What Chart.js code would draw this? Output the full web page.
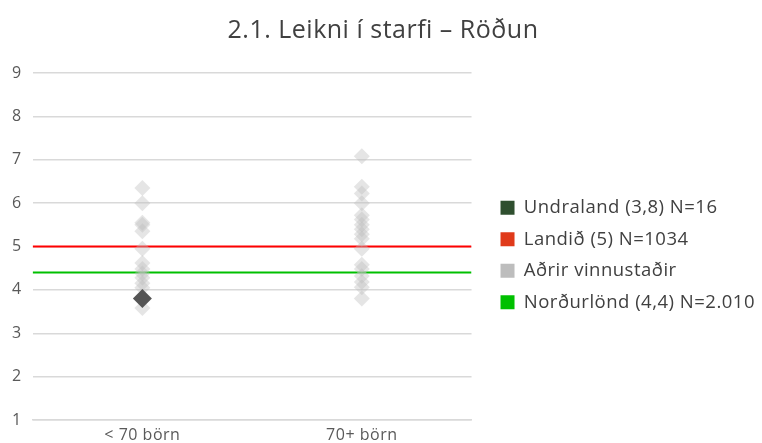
<!DOCTYPE html>
<html>
<head>
<meta charset="utf-8">
<script src="https://cdn.jsdelivr.net/npm/chart.js@4"></script>
<style>
  html, body { margin:0; padding:0; background:#fff; }
  #wrap { width:762px; height:443px; }
</style>
</head>
<body>
<div id="wrap"><canvas id="c"></canvas></div>
<script>
const title = "2.1. Leikni í starfi – Röðun";
const categories = ["< 70 börn", "70+ börn"];
// other workplaces, one list per category
const others1 = [6.35, 6.0, 5.55, 5.5, 5.35, 4.95, 4.62, 4.48, 4.38, 4.28, 4.15, 4.05, 3.58];
const others2 = [7.08, 6.38, 6.22, 6.0, 5.72, 5.62, 5.5, 5.4, 5.28, 5.18, 4.95, 4.58, 4.48, 4.32, 4.18, 4.06, 3.8];
const mine = [3.8, null];          // Undraland
const landid = 5;                  // Landið
const nordurlond = 4.4;            // Norðurlönd
const legendLabels = ["Undraland (3,8) N=16", "Landið (5) N=1034", "Aðrir vinnustaðir", "Norðurlönd (4,4) N=2.010"];
const legendColors = ["#2f4f2f", "#e03a1a", "#bdbdbd", "#00c000"];
const yTicks = [1, 2, 3, 4, 5, 6, 7, 8, 9];

const FONT = "'Open Sans', Lato, sans-serif";
const pos = (i) => i + 0.5;

const otherPts = [];
others1.forEach(v => otherPts.push({x: pos(0), y: v}));
others2.forEach(v => otherPts.push({x: pos(1), y: v}));
const minePts = mine.map((v, i) => v == null ? null : {x: pos(i), y: v}).filter(p => p);
const span = [0, categories.length];

// wider letter spacing, closer to the original typeface
const spacing = {
  id: 'spacing',
  beforeLayout(chart) { chart.ctx.letterSpacing = '0.5px'; },
  beforeDraw(chart) { chart.ctx.letterSpacing = '0.5px'; }
};

const data = {
  datasets: [
    {label: legendLabels[0], data: minePts, backgroundColor: '#555555', borderWidth: 0,
     pointStyle: 'rectRot', pointRadius: 9.5, showLine: false, order: 0},
    {label: legendLabels[1], data: span.map(x => ({x: x, y: landid})), borderColor: '#ff0000',
     borderWidth: 2, pointRadius: 0, showLine: true, type: 'line', order: 2},
    {label: legendLabels[2], data: otherPts, backgroundColor: 'rgba(190,190,190,0.4)', borderWidth: 0,
     pointStyle: 'rectRot', pointRadius: 8, showLine: false, order: 1},
    {label: legendLabels[3], data: span.map(x => ({x: x, y: nordurlond})), borderColor: '#00c000',
     borderWidth: 2, pointRadius: 0, showLine: true, type: 'line', order: 3}
  ]
};

new Chart(document.getElementById('c'), {
  type: 'scatter',
  data: data,
  plugins: [spacing],
  options: {
    responsive: true, maintainAspectRatio: false, animation: false,
    layout: {padding: {left: 1, right: -3, top: 0, bottom: 0}},
    plugins: {
      title: {display: true, text: title, color: '#404040', font: {family: FONT, size: 25, weight: 'normal'},
              padding: {top: 16, bottom: 27}},
      tooltip: {enabled: false},
      legend: {
        position: 'right', maxWidth: 320,
        // blank title only pushes the items down
        title: {display: true, text: ' ', font: {size: 1}, padding: {top: 0, bottom: 66}},
        labels: {
          font: {family: FONT, size: 18.5}, color: '#404040', boxWidth: 14, boxHeight: 14, padding: 13,
          generateLabels: () => legendLabels.map((t, i) => ({
            text: t, fillStyle: legendColors[i], strokeStyle: legendColors[i], lineWidth: 0,
            hidden: false, datasetIndex: i, fontColor: '#404040'}))
        }
      }
    },
    scales: {
      x: {
        type: 'linear', min: 0, max: categories.length,
        afterBuildTicks: (s) => { s.ticks = categories.map((c, i) => ({value: pos(i)})); },
        afterFit: (s) => { s.height = 23; },
        ticks: {callback: (v) => categories[Math.floor(v)], color: '#595959',
                font: {family: FONT, size: 16}, padding: 6, maxRotation: 0},
        grid: {display: false, drawTicks: false},
        border: {color: '#d9d9d9', width: 1.5}
      },
      y: {
        min: yTicks[0], max: yTicks[yTicks.length - 1],
        afterBuildTicks: (s) => { s.ticks = yTicks.map(v => ({value: v})); },
        ticks: {color: '#595959', font: {family: FONT, size: 16}, padding: 11},
        grid: {color: '#d9d9d9', lineWidth: 1.5, drawTicks: false},
        border: {display: false}
      },
      // empty spacer between the plot and the legend
      gap: {
        type: 'linear', position: 'right', display: true,
        ticks: {display: false}, grid: {display: false}, border: {display: false},
        afterFit: (s) => { s.width = 16; }
      }
    }
  }
});
</script>
</body>
</html>
